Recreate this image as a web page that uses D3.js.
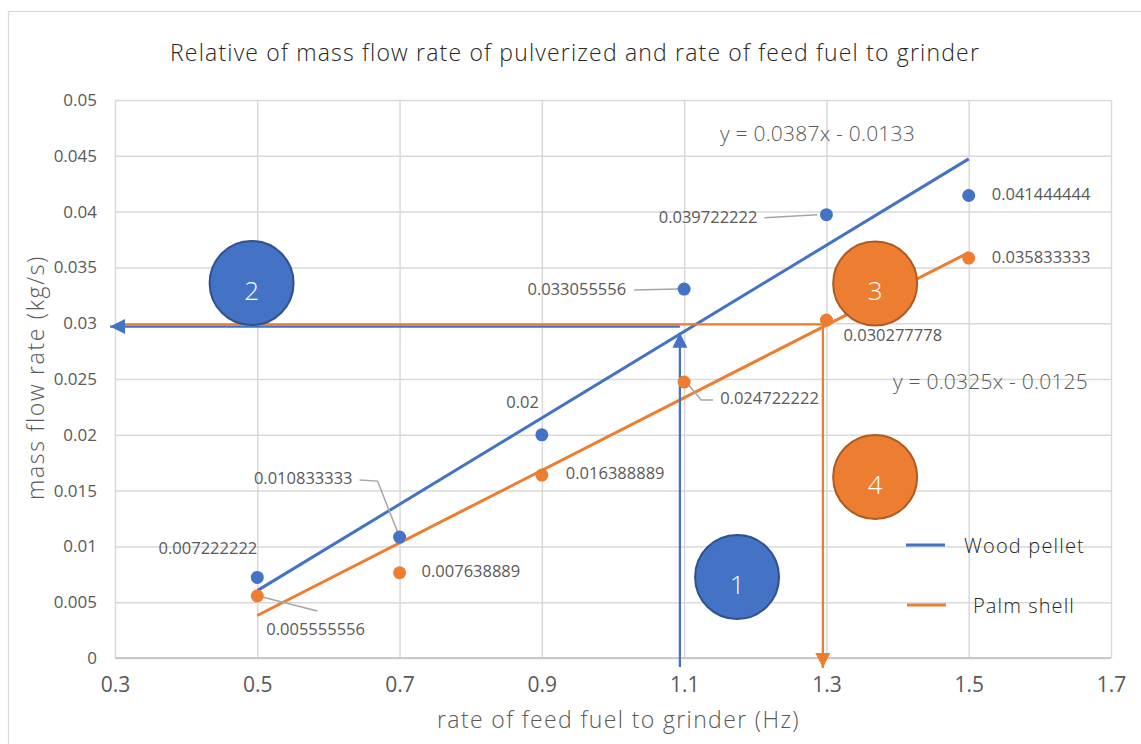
<!DOCTYPE html>
<html>
<head>
<meta charset="utf-8">
<script src="https://cdn.jsdelivr.net/npm/d3@7"></script>
<style>
  html, body { margin: 0; padding: 0; background: #fff; }
  svg { display: block; font-family: "Open Sans", "Noto Sans", sans-serif; }
</style>
</head>
<body>
<svg id="chart" width="1141" height="744"></svg>
<script>
// ---- data ----
const feedRate = [0.5, 0.7, 0.9, 1.1, 1.3, 1.5];
const woodPellet = [0.007222222, 0.010833333, 0.02, 0.033055556, 0.039722222, 0.041444444];
const palmShell = [0.005555556, 0.007638889, 0.016388889, 0.024722222, 0.030277778, 0.035833333];
const seriesNames = ["Wood pellet", "Palm shell"];
const xTickValues = [0.3, 0.5, 0.7, 0.9, 1.1, 1.3, 1.5, 1.7];
const yTickValues = [0, 0.005, 0.01, 0.015, 0.02, 0.025, 0.03, 0.035, 0.04, 0.045, 0.05];
const yTickLabels = ["0", "0.005", "0.01", "0.015", "0.02", "0.025", "0.03", "0.035", "0.04", "0.045", "0.05"];
const equationTexts = ["y = 0.0387x - 0.0133", "y = 0.0325x - 0.0125"];
const titleText = "Relative of mass flow rate of pulverized and rate of feed fuel to grinder";
const xTitle = "rate of feed fuel to grinder (Hz)";
const yTitle = "mass flow rate (kg/s)";
// annotation numbers and their places (data units)
const markerNumbers = ["1", "2", "3", "4"];
const markerX = [1.1744, 0.492, 1.3685, 1.3685];
const markerY = [0.00726, 0.0336, 0.03356, 0.01622];

// ---- layout ----
const colors = ["#4472C4", "#ED7D31"];
const strokes = ["#2F528F", "#AE5A21"];
const svg = d3.select("#chart");
const x = d3.scaleLinear().domain([0.3, 1.7]).range([115, 1111]);
const y = d3.scaleLinear().domain([0, 0.05]).range([658, 100]);

// spread a text to a given width with letter-spacing
function fitWidth(sel, target) {
  const node = sel.node();
  const w = node.getComputedTextLength();
  const n = node.textContent.length;
  if (n > 1) sel.attr("letter-spacing", ((target - w) / n).toFixed(3));
  return sel;
}

// chart border
svg.append("rect").attr("x", 8.5).attr("y", 11.5).attr("width", 1150).attr("height", 760)
  .attr("fill", "#fff").attr("stroke", "#d9d9d9").attr("stroke-width", 1.2);

// title
fitWidth(svg.append("text").attr("x", 170).attr("y", 55)
  .attr("dominant-baseline", "middle").attr("font-size", 23).attr("fill", "#262626")
  .attr("font-weight", 300).text(titleText), 810);

// gridlines
const gridY = d3.axisLeft(y).tickValues(yTickValues).tickSize(-(1111 - 115)).tickFormat("");
svg.append("g").attr("transform", "translate(115,0)").call(gridY)
  .call(g => g.select(".domain").remove())
  .call(g => g.selectAll("line").attr("stroke", "#d9d9d9").attr("stroke-width", 1.5));
const gridX = d3.axisBottom(x).tickValues(xTickValues).tickSize(-(658 - 100)).tickFormat("");
svg.append("g").attr("transform", "translate(0,658)").call(gridX)
  .call(g => g.select(".domain").remove())
  .call(g => g.selectAll("line").attr("stroke", "#d9d9d9").attr("stroke-width", 1.5));
// bottom axis line
svg.append("line").attr("x1", 115).attr("x2", 1111).attr("y1", 658).attr("y2", 658)
  .attr("stroke", "#bfbfbf").attr("stroke-width", 1.5);

// tick labels
const yAxis = d3.axisLeft(y).tickValues(yTickValues).tickSize(0).tickPadding(0)
  .tickFormat((d, i) => yTickLabels[i]);
svg.append("g").attr("transform", "translate(97,0)").call(yAxis)
  .call(g => g.select(".domain").remove())
  .call(g => g.selectAll("text").attr("font-size", 17).attr("fill", "#595959")
    .attr("font-family", "'Open Sans', sans-serif"));
const xAxis = d3.axisBottom(x).tickValues(xTickValues).tickSize(0).tickPadding(0)
  .tickFormat(d3.format(".1f"));
svg.append("g").attr("transform", "translate(0,677)").call(xAxis)
  .call(g => g.select(".domain").remove())
  .call(g => g.selectAll("text").attr("font-size", 21).attr("fill", "#595959")
    .attr("font-family", "'Open Sans', sans-serif"));

// axis titles
fitWidth(svg.append("text").attr("transform", "translate(38,500) rotate(-90)")
  .attr("dominant-baseline", "middle").attr("font-size", 23).attr("fill", "#595959")
  .attr("font-weight", 300).text(yTitle), 245);
fitWidth(svg.append("text").attr("x", 437).attr("y", 722)
  .attr("dominant-baseline", "middle").attr("font-size", 23).attr("fill", "#595959")
  .attr("font-weight", 300).text(xTitle), 363);

// trendlines (least squares, as the chart tool computes)
function fit(xs, ys) {
  const mx = d3.mean(xs), my = d3.mean(ys);
  const b = d3.sum(xs, (v, i) => (v - mx) * (ys[i] - my)) / d3.sum(xs, v => (v - mx) ** 2);
  return { m: b, c: my - b * mx };
}
const allSeries = [woodPellet, palmShell];
const xExt = d3.extent(feedRate);
allSeries.forEach((ys, si) => {
  const f = fit(feedRate, ys);
  svg.append("line")
    .attr("x1", x(xExt[0])).attr("y1", y(f.m * xExt[0] + f.c))
    .attr("x2", x(xExt[1])).attr("y2", y(f.m * xExt[1] + f.c))
    .attr("stroke", colors[si]).attr("stroke-width", 3);
});

// arrows (annotation shapes)
function arrow(x1, y1, x2, y2, color, head) {
  svg.append("line").attr("x1", x1).attr("y1", y1).attr("x2", x2).attr("y2", y2)
    .attr("stroke", color).attr("stroke-width", 2.25);
  if (!head) return;
  const ang = Math.atan2(y2 - y1, x2 - x1);
  const L = 15, W = 7.5;
  const bx = x2 - L * Math.cos(ang), by = y2 - L * Math.sin(ang);
  const px = -Math.sin(ang) * W, py = Math.cos(ang) * W;
  svg.append("path").attr("d", `M${x2},${y2}L${bx + px},${by + py}L${bx - px},${by - py}Z`)
    .attr("fill", color);
}
// orange: across then down
arrow(x(1.295), y(0.0299), x(0.3) + 3, y(0.0299), colors[1], false);
arrow(x(1.295), y(0.0299), x(1.295), y(-0.0009), colors[1], true);
// blue: up then left
arrow(x(1.094), y(-0.0008), x(1.094), y(0.02915), colors[0], true);
arrow(x(1.094), y(0.0297), x(0.293), y(0.0297), colors[0], true);

// leader lines for labels
const leaderColor = "#a6a6a6";
const labelLayout = [
  [ {a: "end", dx: 0, dy: -28}, {a: "end", dx: -47, dy: -58, lead: [[-40,-57],[-22,-56],[-2,-5]]},
    {a: "end", dx: -3, dy: -31}, {a: "end", dx: -58, dy: 1, lead: [[-50,1],[-6,0]]},
    {a: "end", dx: -69, dy: 4, lead: [[-62,3],[-9,0]]}, {a: "start", dx: 23, dy: 0} ],
  [ {a: "start", dx: 9, dy: 35, lead: [[1,0],[60,15]]}, {a: "start", dx: 22, dy: 0},
    {a: "start", dx: 24, dy: -1}, {a: "start", dx: 36, dy: 17, lead: [[2,0],[17,18],[29,18]]},
    {a: "start", dx: 17, dy: 16}, {a: "start", dx: 23, dy: 0} ]
];
allSeries.forEach((ys, si) => {
  ys.forEach((v, i) => {
    const L = labelLayout[si][i];
    if (L.lead) {
      const px = x(feedRate[i]), py = y(v);
      svg.append("path").attr("d", d3.line()(L.lead.map(p => [px + p[0], py + p[1]])))
        .attr("fill", "none").attr("stroke", leaderColor).attr("stroke-width", 1.5);
    }
  });
});

// points
allSeries.forEach((ys, si) => {
  svg.append("g").selectAll("circle").data(ys).join("circle")
    .attr("cx", (d, i) => x(feedRate[i])).attr("cy", d => y(d)).attr("r", 6.5)
    .attr("fill", colors[si]);
});

// data labels
allSeries.forEach((ys, si) => {
  svg.append("g").selectAll("text").data(ys).join("text")
    .attr("x", (d, i) => x(feedRate[i]) + labelLayout[si][i].dx)
    .attr("y", (d, i) => y(d) + labelLayout[si][i].dy)
    .attr("text-anchor", (d, i) => labelLayout[si][i].a)
    .attr("dominant-baseline", "middle")
    .attr("font-size", 16.5).attr("fill", "#595959")
    .text(d => String(d));
});

// equations
fitWidth(svg.append("text").attr("x", 720).attr("y", 135).attr("dominant-baseline", "middle")
  .attr("font-size", 21).attr("fill", "#595959").attr("font-weight", 300).text(equationTexts[0]), 195);
fitWidth(svg.append("text").attr("x", 893).attr("y", 383).attr("dominant-baseline", "middle")
  .attr("font-size", 21).attr("fill", "#595959").attr("font-weight", 300).text(equationTexts[1]), 195);

// numbered circles
const mColors = [colors[0], colors[0], colors[1], colors[1]];
const mStrokes = [strokes[0], strokes[0], strokes[1], strokes[1]];
markerNumbers.forEach((n, i) => {
  svg.append("circle").attr("cx", x(markerX[i])).attr("cy", y(markerY[i])).attr("r", 42)
    .attr("fill", mColors[i]).attr("stroke", mStrokes[i]).attr("stroke-width", 2);
  svg.append("text").attr("x", x(markerX[i])).attr("y", y(markerY[i]) + 10)
    .attr("text-anchor", "middle").attr("dominant-baseline", "middle")
    .attr("font-size", 26).attr("fill", "#fff").attr("font-weight", 300).text(n);
});

// legend
const legendY = [545, 605];
const legendX = [906, 907];
const legendTextX = [964, 973];
const legendTextW = [121, 102];
seriesNames.forEach((s, i) => {
  svg.append("line").attr("x1", legendX[i]).attr("x2", legendX[i] + 39)
    .attr("y1", legendY[i]).attr("y2", legendY[i])
    .attr("stroke", colors[i]).attr("stroke-width", 3);
  fitWidth(svg.append("text").attr("x", legendTextX[i]).attr("y", legendY[i] + 3)
    .attr("dominant-baseline", "middle").attr("font-size", 20).attr("fill", "#262626")
    .attr("font-weight", 300).text(s), legendTextW[i]);
});
</script>
</body>
</html>
